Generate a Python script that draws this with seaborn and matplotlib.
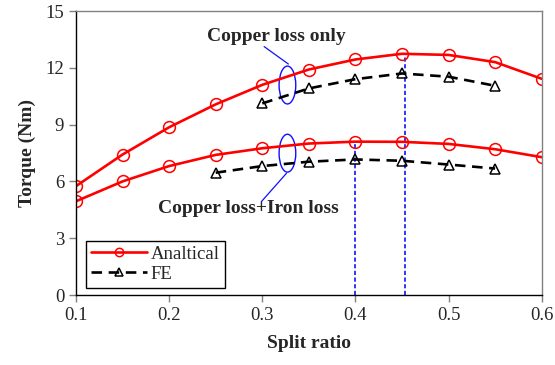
import numpy as np
import pandas as pd
import matplotlib
matplotlib.use("Agg")
import matplotlib.pyplot as plt
import seaborn as sns
from matplotlib.patches import Ellipse

# ---- data ----
split_ana = [0.10, 0.15, 0.20, 0.25, 0.30, 0.35, 0.40, 0.45, 0.50, 0.55, 0.60]
ana_cu = [5.75, 7.42, 8.86, 10.07, 11.10, 11.91, 12.44, 12.74, 12.68, 12.30, 11.42]
ana_cu_fe = [4.95, 6.00, 6.81, 7.40, 7.75, 8.00, 8.10, 8.09, 7.98, 7.70, 7.28]

split_fe = [0.30, 0.35, 0.40, 0.45, 0.50, 0.55]
fe_cu = [10.12, 10.91, 11.40, 11.70, 11.53, 11.05]
split_fe2 = [0.25, 0.30, 0.35, 0.40, 0.45, 0.50, 0.55]
fe_cu_fe = [6.46, 6.81, 7.04, 7.16, 7.09, 6.89, 6.68]

vline_x = [0.40, 0.453]
vline_top = [8.10, 12.74]

xticks = [0.1, 0.2, 0.3, 0.4, 0.5, 0.6]
yticks = [0, 3, 6, 9, 12, 15]

sns.set_theme(style="white")
plt.rcParams['font.family'] = ['Liberation Serif', 'DejaVu Serif']

fig = plt.figure(figsize=(5.55, 3.65), dpi=100)
ax = fig.add_axes([76/555, 1-295/365, (541.7-76)/555, (295-11)/365])

red_kw = dict(color="#FF0000", lw=1.9, marker="o", markersize=8.5,
              markerfacecolor="none", markeredgecolor="#FF0000", markeredgewidth=1.1)
blk_kw = dict(color="black", lw=1.9, marker="^", markersize=7.5,
              markerfacecolor="none", markeredgecolor="black", markeredgewidth=1.1,
              linestyle=(0, (4, 2.5)))

sns.lineplot(x=split_ana, y=ana_cu, ax=ax, label="Analtical", **red_kw)
sns.lineplot(x=split_ana, y=ana_cu_fe, ax=ax, **red_kw)
sns.lineplot(x=split_fe, y=fe_cu, ax=ax, label="FE", **blk_kw)
sns.lineplot(x=split_fe2, y=fe_cu_fe, ax=ax, **blk_kw)

ax.vlines(vline_x, 0, vline_top, colors="#1010FF", linestyles=(0, (2.5, 1.5)),
          lw=1.2, zorder=1)

# ellipses and annotations
for yc in [11.09, 7.49]:
    ax.add_patch(Ellipse((0.327, yc), 0.0179, 2.0, fill=False, ec="#1010FF", lw=1.0))
ax.plot([0.302, 0.328], [13.12, 12.20], color="#1010FF", lw=0.9)
ax.plot([0.326, 0.299], [6.43, 4.93], color="#1010FF", lw=0.9)
ax.text(0.315, 13.65, "Copper loss only", ha="center", va="center",
        fontsize=14, fontweight="bold")
ax.text(0.2855, 4.58, "Copper loss+Iron loss", ha="center", va="center",
        fontsize=14, fontweight="bold")

ax.set_xlim(0.1, 0.6)
ax.set_ylim(0, 15)
ax.set_xticks(xticks)
ax.set_xticklabels([f"{v:.1f}" for v in xticks])
ax.set_yticks(yticks)
ax.set_yticklabels([str(v) for v in yticks])
ax.tick_params(axis="both", labelsize=13.5, length=5, width=1, direction="out",
               color="#808080", left=True, bottom=True)
ax.set_xlabel("Split ratio", fontsize=14, fontweight="bold", labelpad=8)
ax.set_ylabel("Torque (Nm)", fontsize=14, fontweight="bold", labelpad=7)

for s in ["left", "bottom"]:
    ax.spines[s].set_color("black")
    ax.spines[s].set_linewidth(1.0)
for s in ["top", "right"]:
    ax.spines[s].set_color("#808080")
    ax.spines[s].set_linewidth(1.0)

leg = ax.legend(loc="lower left", bbox_to_anchor=(0.022, 0.026), fontsize=13.5,
                frameon=True, fancybox=False, edgecolor="black", framealpha=1,
                borderpad=0.25, labelspacing=0.15, handlelength=3.0,
                handletextpad=0.2, borderaxespad=0)
leg.get_frame().set_linewidth(1.0)
for h in leg.legend_handles:
    h.set_markersize(6)

fig.savefig("out.png", dpi=100)
